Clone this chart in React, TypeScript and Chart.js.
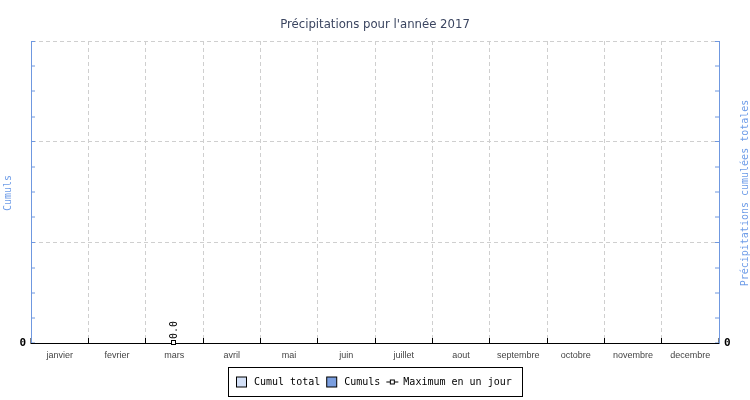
import React, { useEffect, useRef } from 'react';
import { Chart, registerables } from 'chart.js';

Chart.register(...registerables);

const months = ['janvier', 'fevrier', 'mars', 'avril', 'mai', 'juin', 'juillet', 'aout', 'septembre', 'octobre', 'novembre', 'decembre'];
const cumulTotal = [0, 0, 0, 0, 0, 0, 0, 0, 0, 0, 0, 0];
const cumuls = [0, 0, 0, 0, 0, 0, 0, 0, 0, 0, 0, 0];
const maxJour: (number | null)[] = [null, null, 0, null, null, null, null, null, null, null, null, null];
const shownTickLabels = [0];
const yMin = 0;
const yMax = 3;
const yStep = 0.25;

const titleText = "Précipitations pour l'année 2017";
const leftTitle = 'Cumuls';
const rightTitle = 'Précipitations cumulées totales';
const legendLabels = ['Cumul total', 'Cumuls', 'Maximum en un jour'];

const AXIS_BLUE = '#6f98e0';
const TEXT_BLUE = '#6f9de8';
const LIGHT_FILL = '#d3e0f7';
const MID_FILL = '#7a9edf';
const GRID = '#cfcfcf';
const MONO = '"DejaVu Sans Mono", monospace';

const axisTitlesPlugin = {
  id: 'axisTitles',
  afterDraw(chart: any) {
    const { ctx, chartArea } = chart;
    const cy = (chartArea.top + chartArea.bottom) / 2 + 1;
    ctx.save();
    ctx.font = '10px ' + MONO;
    ctx.fillStyle = TEXT_BLUE;
    ctx.textAlign = 'center';
    ctx.textBaseline = 'middle';
    ctx.save();
    ctx.translate(8, cy);
    ctx.rotate(-Math.PI / 2);
    ctx.fillText(leftTitle, 0, 0);
    ctx.restore();
    ctx.save();
    ctx.translate(745, cy);
    ctx.rotate(-Math.PI / 2);
    ctx.fillText(rightTitle, 0, 0);
    ctx.restore();
    ctx.restore();
  },
};

const pointLabelPlugin = {
  id: 'pointLabels',
  afterDraw(chart: any) {
    const { ctx } = chart;
    const meta = chart.getDatasetMeta(2);
    ctx.save();
    ctx.font = '10px ' + MONO;
    ctx.fillStyle = '#000';
    ctx.textAlign = 'left';
    ctx.textBaseline = 'middle';
    meta.data.forEach((pt: any, i: number) => {
      const v = maxJour[i];
      if (v === null || v === undefined) return;
      ctx.save();
      ctx.translate(pt.x, pt.y - 4);
      ctx.rotate(-Math.PI / 2);
      ctx.fillText(v.toFixed(1), 0, 0);
      ctx.restore();
      ctx.fillStyle = '#fff';
      ctx.strokeStyle = '#000';
      ctx.lineWidth = 1;
      const px = Math.round(pt.x) - 2.5;
      const py = Math.round(pt.y) - 2.5;
      ctx.fillRect(px, py, 4, 4);
      ctx.strokeRect(px, py, 4, 4);
      ctx.fillStyle = '#000';
    });
    ctx.restore();
  },
};

const customLegendPlugin = {
  id: 'customLegend',
  afterDraw(chart: any) {
    const { ctx } = chart;
    ctx.save();
    ctx.font = '10px ' + MONO;
    const w = legendLabels.map((t) => ctx.measureText(t).width);
    const box = 10;
    const padL = 8;
    const padR = 10;
    const gapBT = 8;
    const gapItem = 6;
    const total = padL + (box + gapBT + w[0]) + gapItem + (box + gapBT + w[1]) + gapItem + (12 + 5 + w[2]) + padR;
    const left = Math.round(375 - total / 2) + 0.5;
    const top = 367.5;
    const h = 29;
    const cy = top + h / 2;
    ctx.lineWidth = 1;
    ctx.strokeStyle = '#000';
    ctx.strokeRect(left, top, Math.round(total), h);
    ctx.textAlign = 'left';
    ctx.textBaseline = 'middle';
    let x = left + padL;
    const sq = (fill: string) => {
      ctx.fillStyle = fill;
      ctx.fillRect(x, cy - 5, box, box);
      ctx.strokeStyle = '#000';
      ctx.strokeRect(x, cy - 5, box, box);
    };
    sq(LIGHT_FILL);
    x += box + gapBT;
    ctx.fillStyle = '#000';
    ctx.fillText(legendLabels[0], x - 0.5, cy + 0.5);
    x += w[0] + gapItem;
    sq(MID_FILL);
    x += box + gapBT;
    ctx.fillStyle = '#000';
    ctx.fillText(legendLabels[1], x - 0.5, cy + 0.5);
    x += w[1] + gapItem;
    ctx.beginPath();
    ctx.moveTo(x - 0.5, cy);
    ctx.lineTo(x + 11.5, cy);
    ctx.stroke();
    ctx.fillStyle = '#fff';
    ctx.fillRect(x + 3.5, cy - 2, 4, 4);
    ctx.strokeRect(x + 3.5, cy - 2, 4, 4);
    x += 12 + 5;
    ctx.fillStyle = '#000';
    ctx.fillText(legendLabels[2], x - 0.5, cy + 0.5);
    ctx.restore();
  },
};

const isMajor = (v: number) => Math.abs(v - Math.round(v)) < 1e-6;

function yAxis(position: 'left' | 'right', width: number) {
  return {
    type: 'linear',
    position,
    min: yMin,
    max: yMax,
    afterFit: (scale: any) => {
      scale.width = width;
    },
    ticks: {
      stepSize: yStep,
      autoSkip: false,
      padding: 9,
      color: '#000',
      font: { family: MONO, size: 11, weight: 'bold' },
      callback: (v: number) => (shownTickLabels.includes(v) ? String(v) : ''),
    },
    grid: {
      drawOnChartArea: position === 'left',
      lineWidth: (c: any) => (c.tick && isMajor(c.tick.value) && c.tick.value !== 0 ? 1 : 0),
      color: GRID,
      tickLength: -4,
      tickColor: AXIS_BLUE,
      tickWidth: 1,
    },
    border: { display: true, color: AXIS_BLUE, width: 1, dash: [4, 3], z: 1 },
  };
}

export default function App() {
  const ref = useRef<HTMLCanvasElement>(null);
  useEffect(() => {
    document.body.style.margin = '0';
    const chart = new Chart(ref.current as HTMLCanvasElement, {
      type: 'bar',
      data: {
        labels: months,
        datasets: [
          { type: 'bar', label: legendLabels[0], data: cumulTotal, backgroundColor: LIGHT_FILL, borderWidth: 0, yAxisID: 'y1', grouped: false },
          { type: 'bar', label: legendLabels[1], data: cumuls, backgroundColor: MID_FILL, borderWidth: 0, yAxisID: 'y', grouped: false },
          {
            type: 'line',
            label: legendLabels[2],
            data: maxJour,
            yAxisID: 'y',
            borderColor: '#000',
            borderWidth: 1,
            pointStyle: 'rect',
            pointRadius: 0,
            pointBackgroundColor: '#fff',
            pointBorderColor: '#000',
            pointBorderWidth: 1,
            spanGaps: false,
          },
        ],
      } as any,
      options: {
        responsive: false,
        animation: false,
        devicePixelRatio: 1,
        layout: { padding: 0 },
        plugins: {
          legend: { display: false },
          tooltip: { enabled: false },
          title: {
            display: true,
            text: titleText,
            color: '#3b4560',
            font: { family: '"Liberation Sans Narrow", "DejaVu Sans Condensed", sans-serif', size: 13, weight: 'normal', lineHeight: 1.2 },
            padding: { top: 17, bottom: 8.4 },
          },
        },
        scales: {
          x: {
            type: 'category',
            offset: true,
            afterFit: (scale: any) => {
              scale.height = 57;
            },
            ticks: {
              color: '#444',
              padding: 12,
              maxRotation: 0,
              autoSkip: false,
              font: { family: '"Liberation Sans", sans-serif', size: 9 },
            },
            grid: {
              offset: true,
              color: GRID,
              lineWidth: (c: any) => (c.type === 'tick' && c.index > 0 ? 1 : 0),
              tickLength: -5,
              tickColor: '#000',
              tickWidth: 1,
            },
            border: { display: true, color: '#000', width: 1, dash: [4, 3], z: 1 },
          },
          y: yAxis('left', 31),
          y1: yAxis('right', 31),
        },
      } as any,
      plugins: [axisTitlesPlugin, pointLabelPlugin, customLegendPlugin],
    });
    return () => chart.destroy();
  }, []);
  return <canvas ref={ref} width={750} height={400} />;
}
